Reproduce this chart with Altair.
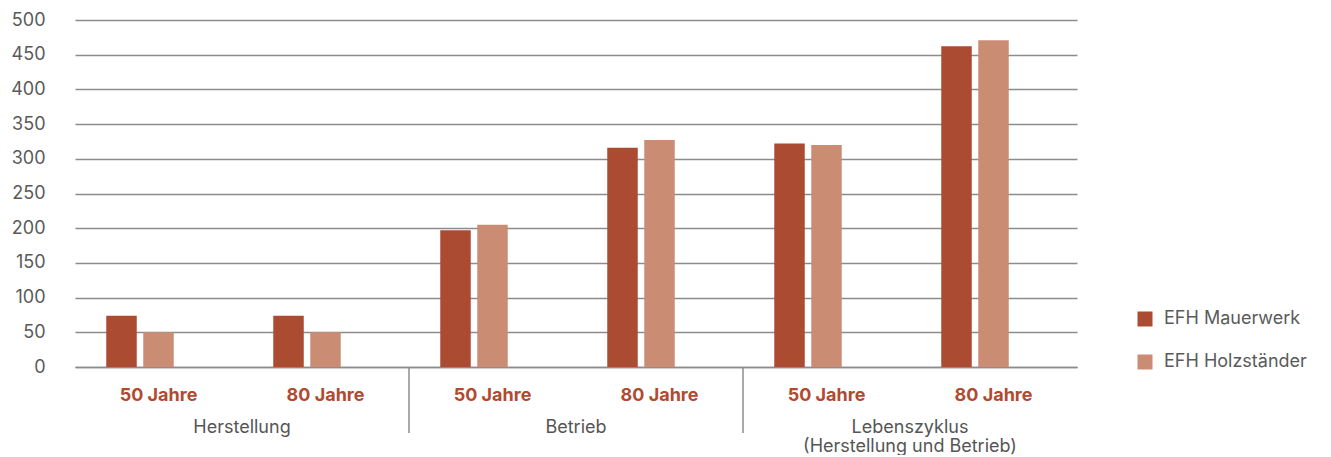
import altair as alt
import pandas as pd

groups = ["Herstellung", "Betrieb", "Lebenszyklus\n(Herstellung und Betrieb)"]
periods = ["50 Jahre", "80 Jahre"]
series = ["EFH Mauerwerk", "EFH Holzständer"]
mauerwerk = [74, 74, 197, 316, 322, 462]
holzstaender = [50, 50, 205, 327, 320, 471]
colors = ["#AA4B32", "#CA8C73"]
y_ticks = [0, 50, 100, 150, 200, 250, 300, 350, 400, 450, 500]

rows = []
cats = []
i = 0
for g in groups:
    for p in periods:
        key = f"{g}|{p}"
        cats.append(key)
        rows.append({"cat": key, "series": series[0], "value": mauerwerk[i]})
        rows.append({"cat": key, "series": series[1], "value": holzstaender[i]})
        i += 1
df = pd.DataFrame(rows)
gdf = pd.DataFrame({"grp": groups})
sep = pd.DataFrame({"grp": groups[1:]})

W, H = 1002, 347
FONT = "Inter"
FS = 18
GRID = "#8c8c8c"

grp_scale = alt.Scale(domain=groups, paddingInner=0, paddingOuter=0)

bars = alt.Chart(df).mark_bar().encode(
    x=alt.X("cat:N", sort=cats,
            scale=alt.Scale(domain=cats, paddingInner=0, paddingOuter=0),
            axis=alt.Axis(title=None, labelExpr="split(datum.value, '|')[1]", labelAngle=0,
                          ticks=False, labelPadding=19, labelFont=FONT, labelFontSize=FS,
                          labelFontWeight="bold", labelColor="#B04A30",
                          domainColor=GRID, domainWidth=1.5, grid=False)),
    xOffset=alt.XOffset("series:N",
                        scale=alt.Scale(domain=series + ["_"], paddingInner=0.176, paddingOuter=0.845)),
    y=alt.Y("value:Q", scale=alt.Scale(domain=[0, 500], nice=False),
            axis=alt.Axis(title=None, values=y_ticks, ticks=False, domain=False,
                          labelPadding=30, labelFont=FONT, labelFontSize=FS,
                          labelColor="#5a5a5a", gridColor=GRID, gridWidth=1.5)),
    color=alt.Color("series:N", scale=alt.Scale(domain=series, range=colors),
                    legend=alt.Legend(title=None, orient="none", legendX=1061, legendY=290,
                                      symbolType="square", symbolSize=225, symbolStrokeWidth=0,
                                      labelFont=FONT, labelFontSize=FS, labelColor="#5a5a5a",
                                      rowPadding=25, labelOffset=10)),
)

rules = alt.Chart(sep).mark_rule(color=GRID, strokeWidth=1.5).encode(
    x=alt.X("grp:N", bandPosition=0, scale=grp_scale, axis=None),
    y=alt.value(H),
    y2=alt.value(H + 66),
)

labels = alt.Chart(gdf).mark_text(font=FONT, fontSize=FS, color="#555555", lineBreak="\n",
                                  baseline="alphabetic", lineHeight=19).encode(
    x=alt.X("grp:N", scale=grp_scale, axis=None),
    y=alt.value(413),
    text="grp:N",
)

chart = alt.layer(bars, rules, labels).resolve_scale(x="independent").properties(
    width=W, height=H,
    padding={"left": 67, "top": 12, "right": 245, "bottom": 88},
    autosize=alt.AutoSizeParams(type="none"),
).configure_view(stroke=None)

chart.save("out.html", embed_options={"renderer": "svg", "actions": False})
